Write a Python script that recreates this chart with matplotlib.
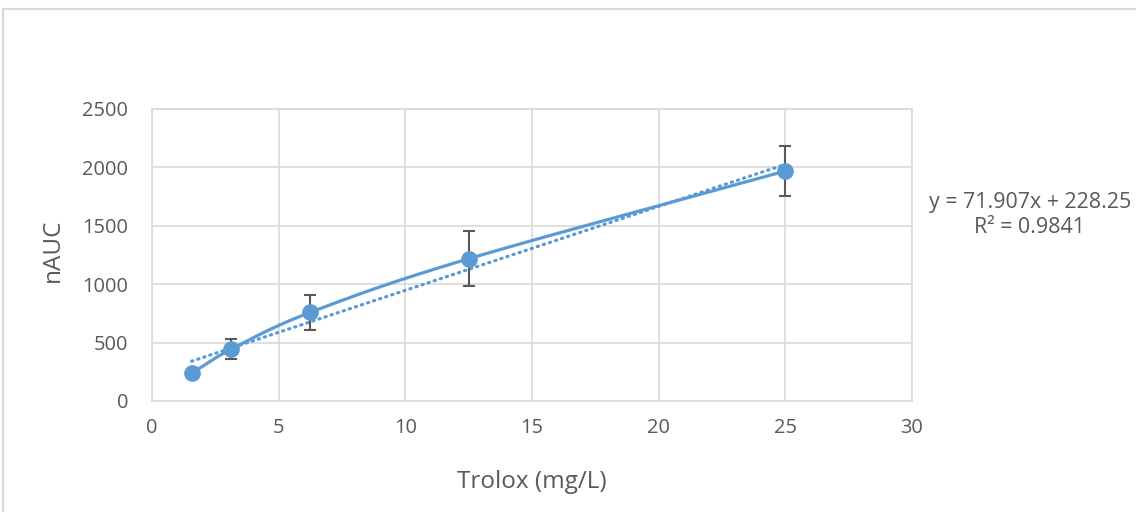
import numpy as np
import matplotlib
matplotlib.use("Agg")
import matplotlib.pyplot as plt
from matplotlib.patches import Rectangle

# Data
trolox = [1.5625, 3.125, 6.25, 12.5, 25.0]
nauc = [237, 443, 759, 1218, 1969]
err = [0, 85, 147, 236, 211]
slope, intercept = 71.907, 228.25
eq_text = "y = 71.907x + 228.25\nR² = 0.9841"
x_ticks = [0, 5, 10, 15, 20, 25, 30]
y_ticks = [0, 500, 1000, 1500, 2000, 2500]

blue = "#5B9BD5"
gray_txt = "#595959"
grid_c = "#D9D9D9"

plt.rcParams['font.family'] = ['Open Sans', 'DejaVu Sans']

fig = plt.figure(figsize=(11.36, 5.12), dpi=100)
W, H = 1136, 512
ax = fig.add_axes([152 / W, 1 - 401 / H, (912 - 152) / W, (401 - 109) / H])

# outer chart border
fig.patches.append(Rectangle((3 / W, -0.1), 1.2, 1 - 9 / H + 0.1, transform=fig.transFigure,
                             fill=False, edgecolor="#D9D9D9", linewidth=1.5))

# smooth line (Catmull-Rom style, like Excel smoothed line)
def smooth(xs, ys, n=40):
    xs = np.asarray(xs, float); ys = np.asarray(ys, float)
    P = np.column_stack([xs, ys])
    P = np.vstack([P[0] - (P[1] - P[0]), P, P[-1] + (P[-1] - P[-2])])
    out = []
    for i in range(1, len(P) - 2):
        p0, p1, p2, p3 = P[i - 1], P[i], P[i + 1], P[i + 2]
        c1 = p1 + (p2 - p0) / 6
        c2 = p2 - (p3 - p1) / 6
        t = np.linspace(0, 1, n)[:, None]
        seg = (1 - t) ** 3 * p1 + 3 * (1 - t) ** 2 * t * c1 + 3 * (1 - t) * t ** 2 * c2 + t ** 3 * p2
        out.append(seg)
    out = np.vstack(out)
    return out[:, 0], out[:, 1]

sx, sy = smooth(trolox, nauc)
ax.plot(sx, sy, color=blue, linewidth=2.3, zorder=3, solid_capstyle="round")

# trendline
tx = np.array([trolox[0], trolox[-1]])
ax.plot(tx, slope * tx + intercept, color=blue, linewidth=2.3, linestyle=(0, (0.4, 1.6)),
        dash_capstyle="round", zorder=2)

# error bars
ax.errorbar(trolox, nauc, yerr=err, fmt="none", ecolor=gray_txt, elinewidth=1.5,
            capsize=4.5, capthick=1.5, zorder=4)
ax.plot(trolox, nauc, "o", color=blue, markersize=11, zorder=5)

ax.set_xlim(0, 30)
ax.set_ylim(0, 2500)
ax.set_xticks(x_ticks)
ax.set_yticks(y_ticks)
ax.grid(True, color=grid_c, linewidth=1.2)
ax.set_axisbelow(True)
for s in ax.spines.values():
    s.set_color(grid_c)
    s.set_linewidth(1.2)
ax.tick_params(length=0, labelsize=14.4, colors=gray_txt)
ax.tick_params(axis="y", pad=17)
ax.tick_params(axis="x", pad=12)
ax.set_xlabel("Trolox (mg/L)", fontsize=17.5, color=gray_txt, va="center")
ax.set_ylabel("nAUC", fontsize=17.5, color=gray_txt, va="center")
ax.xaxis.set_label_coords(0.5, (401 - 482) / 292)
ax.yaxis.set_label_coords((52.5 - 152) / 760, 0.5 + 5 / 292)

fig.text(1030 / W, 1 - 215 / H, eq_text, ha="center", va="center", fontsize=15.4,
         color=gray_txt, linespacing=1.3)

fig.savefig("out.png", dpi=100)
